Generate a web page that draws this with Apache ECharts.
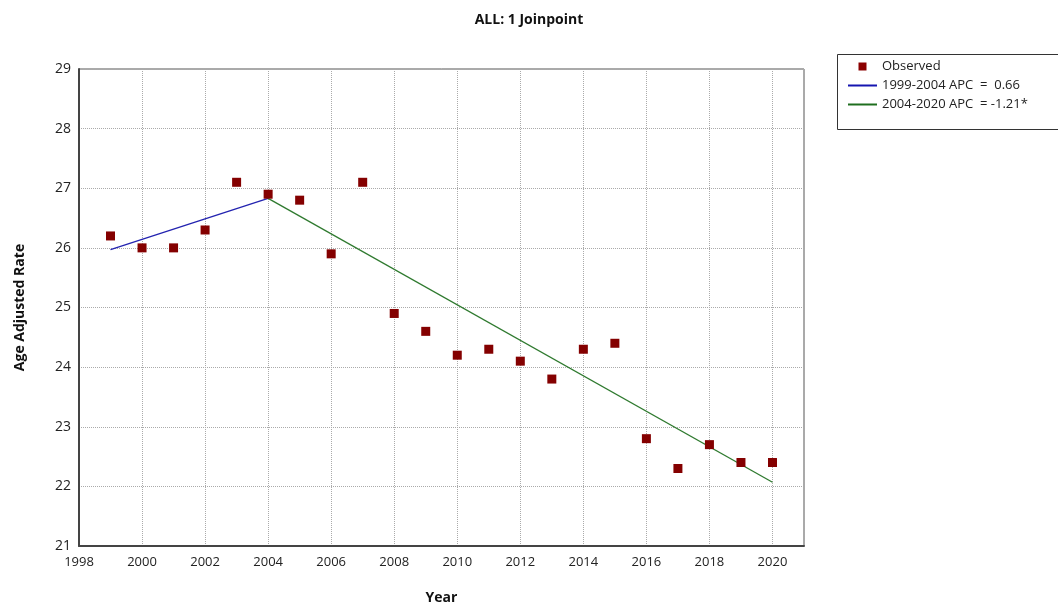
<!DOCTYPE html>
<html>
<head>
<meta charset="utf-8">
<script src="https://cdn.jsdelivr.net/npm/echarts@6/dist/echarts.min.js"></script>
<style>
html,body{margin:0;padding:0;background:#fff;}
#chart{width:1058px;height:612px;}
</style>
</head>
<body>
<div id="chart"></div>
<script>
const years = [1999,2000,2001,2002,2003,2004,2005,2006,2007,2008,2009,2010,2011,2012,2013,2014,2015,2016,2017,2018,2019,2020];
const observed = [26.2,26.0,26.0,26.3,27.1,26.9,26.8,25.9,27.1,24.9,24.6,24.2,24.3,24.1,23.8,24.3,24.4,22.8,22.3,22.7,22.4,22.4];
const seg1Years = [1999, 2004];
const seg1Values = [25.97, 26.83];
const seg2Years = [2004, 2020];
const seg2Values = [26.83, 22.07];
const seriesNames = ['Observed', '1999-2004 APC  =  0.66', '2004-2020 APC  = -1.21*'];

const FONT = '"Open Sans", "Noto Sans", sans-serif';
const chart = echarts.init(document.getElementById('chart'), null, {renderer:'canvas'});
chart.setOption({
  animation: false,
  backgroundColor: '#fff',
  textStyle: {fontFamily: FONT},
  title: {
    text: 'ALL: 1 Joinpoint',
    left: 'center',
    top: 8,
    textStyle: {fontFamily: FONT, fontSize: 14, fontWeight: 'bold', color: '#111'}
  },
  graphic: [{
    type: 'rect',
    left: 837, top: 54,
    shape: {width: 222, height: 75},
    style: {fill: '#fff', stroke: '#333', lineWidth: 1},
    z: 0
  }],
  legend: {
    orient: 'vertical',
    left: 848,
    top: 60,
    itemWidth: 29,
    itemHeight: 8,
    itemGap: 6,
    padding: 0,
    z: 10,
    textStyle: {fontFamily: FONT, fontSize: 13, color: '#222'},
    data: [
      {name: seriesNames[0], icon: 'path://M0,0h8v8h-8z', itemStyle: {color: '#8b0000', opacity: 1}},
      {name: seriesNames[1], icon: 'path://M0,0h29v2h-29z'},
      {name: seriesNames[2], icon: 'path://M0,0h29v2h-29z'}
    ]
  },
  grid: {left: 79, top: 69, right: 254, bottom: 66, show: true, borderColor: '#555', borderWidth: 1},
  xAxis: {
    type: 'value',
    min: 1998, max: 2021, interval: 2,
    name: 'Year',
    nameLocation: 'middle',
    nameGap: 45,
    nameTextStyle: {fontFamily: FONT, fontSize: 14, fontWeight: 'bold', color: '#111'},
    axisLine: {show: true, onZero: false, lineStyle: {color: '#444', width: 2}},
    axisTick: {show: false},
    axisLabel: {
      showMaxLabel: false,
      margin: 10,
      fontSize: 13, color: '#222', fontFamily: FONT,
      formatter: v => (v === 2021 ? '' : String(v))
    },
    splitLine: {show: true, lineStyle: {type: 'dotted', color: '#aaa', width: 1}}
  },
  yAxis: {
    type: 'value',
    min: 21, max: 29, interval: 1,
    name: 'Age Adjusted Rate',
    nameLocation: 'middle',
    nameGap: 52,
    nameTextStyle: {fontFamily: FONT, fontSize: 14, fontWeight: 'bold', color: '#111'},
    axisLine: {show: true, onZero: false, lineStyle: {color: '#444', width: 2}},
    axisTick: {show: false},
    axisLabel: {margin: 8, fontSize: 14, color: '#222', fontFamily: FONT},
    splitLine: {show: true, lineStyle: {type: 'dotted', color: '#aaa', width: 1}}
  },
  series: [
    {
      name: seriesNames[0],
      type: 'scatter',
      symbol: 'rect',
      symbolSize: 9,
      itemStyle: {color: '#840000', opacity: 1},
      data: years.map((y, i) => [y, observed[i]]),
      z: 5
    },
    {
      name: seriesNames[1],
      type: 'line',
      symbol: 'none',
      lineStyle: {color: '#2323b0', width: 1.3},
      itemStyle: {color: '#1515b0'},
      data: seg1Years.map((y, i) => [y, seg1Values[i]]),
      z: 3
    },
    {
      name: seriesNames[2],
      type: 'line',
      symbol: 'none',
      lineStyle: {color: '#2f7a2f', width: 1.3},
      itemStyle: {color: '#1f6e1f'},
      data: seg2Years.map((y, i) => [y, seg2Values[i]]),
      z: 3
    }
  ]
});
</script>
</body>
</html>
